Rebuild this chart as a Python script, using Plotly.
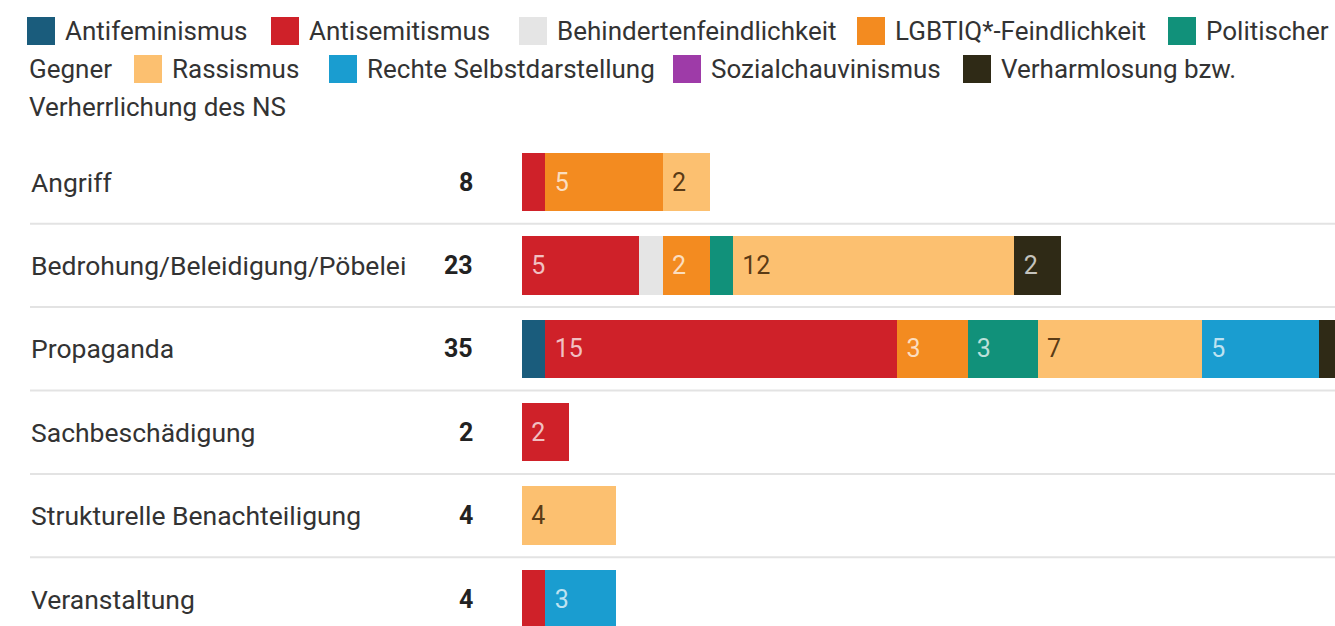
import plotly.graph_objects as go

# ---------------- data ----------------
categories = ["Angriff", "Bedrohung/Beleidigung/Pöbelei", "Propaganda",
              "Sachbeschädigung", "Strukturelle Benachteiligung", "Veranstaltung"]

series_names = ["Antifeminismus", "Antisemitismus", "Behindertenfeindlichkeit",
                "LGBTIQ*-Feindlichkeit", "Politischer Gegner", "Rassismus",
                "Rechte Selbstdarstellung", "Sozialchauvinismus",
                "Verharmlosung bzw. Verherrlichung des NS"]

antifeminismus = [0, 0, 1, 0, 0, 0]
antisemitismus = [1, 5, 15, 2, 0, 1]
behindertenfeindlichkeit = [0, 1, 0, 0, 0, 0]
lgbtiq_feindlichkeit = [5, 2, 3, 0, 0, 0]
politischer_gegner = [0, 1, 3, 0, 0, 0]
rassismus = [2, 12, 7, 0, 4, 0]
rechte_selbstdarstellung = [0, 0, 5, 0, 0, 3]
sozialchauvinismus = [0, 0, 0, 0, 0, 0]
verharmlosung = [0, 2, 1, 0, 0, 0]

series_values = [antifeminismus, antisemitismus, behindertenfeindlichkeit,
                 lgbtiq_feindlichkeit, politischer_gegner, rassismus,
                 rechte_selbstdarstellung, sozialchauvinismus, verharmlosung]

# ---------------- styles ----------------
colors = ["#1a5c7c", "#cf2129", "#e5e5e5", "#f38b20", "#11917a",
          "#fcc070", "#1a9dd0", "#9e3ba8", "#2f2a16"]
LIGHT = "rgba(255,255,255,0.72)"
DARK = "rgba(60,35,5,0.85)"
text_colors = [LIGHT, LIGHT, DARK, LIGHT, LIGHT, DARK, LIGHT, LIGHT, LIGHT]

W, H = 1335, 626
FONT = "Roboto"
PLOT_LEFT = 522    # px
UNIT = 23.45       # px per case
ROW = 83.4         # px per row
ROW0 = 182         # centre of first row (px)


def px(sx):
    return sx / W


def py(sy):
    return 1 - sy / H


fig = go.Figure()
for name, vals, col, tcol in zip(series_names, series_values, colors, text_colors):
    fig.add_trace(go.Bar(
        y=categories, x=vals, name=name, orientation="h",
        marker=dict(color=col, line=dict(width=0)),
        text=["\u00a0" + str(v) if v >= 2 else "" for v in vals],
        textposition="inside", insidetextanchor="start",
        textfont=dict(family=FONT, size=25, color=tcol),
        showlegend=False, width=0.7,
        hovertemplate="%{y}<br>" + name + ": %{x}<extra></extra>",
    ))

totals = [sum(s[i] for s in series_values) for i in range(len(categories))]

annotations = []
shapes = []
# category labels and totals
for cat, tot in zip(categories, totals):
    annotations.append(dict(x=px(29), xref="paper", y=cat, yref="y", text=cat,
                            showarrow=False, xanchor="left", yanchor="middle",
                            font=dict(family=FONT, size=26.5, color="#333333")))
    annotations.append(dict(x=px(475), xref="paper", y=cat, yref="y",
                            text="<b>" + str(tot) + "</b>",
                            showarrow=False, xanchor="right", yanchor="middle",
                            font=dict(family=FONT, size=25, color="#222222")))
# row separators
for i in range(len(categories) - 1):
    shapes.append(dict(type="line", xref="paper", yref="y",
                       x0=px(30), x1=1, y0=i + 0.5, y1=i + 0.5,
                       line=dict(color="#e3e3e3", width=2), layer="below"))

# custom wrapping legend (square x, line centre y, text) in px
legend_items = [
    (27, 31, series_names[0], colors[0]),
    (271, 31, series_names[1], colors[1]),
    (519, 31, series_names[2], colors[2]),
    (857, 31, series_names[3], colors[3]),
    (1168, 31, "Politischer", colors[4]),
    (134, 69, series_names[5], colors[5]),
    (329, 69, series_names[6], colors[6]),
    (673, 69, series_names[7], colors[7]),
    (963, 69, "Verharmlosung bzw.", colors[8]),
]
SQ = 28
for sx, cy, txt, col in legend_items:
    shapes.append(dict(type="rect", xref="paper", yref="paper",
                       x0=px(sx), x1=px(sx + SQ),
                       y0=py(cy + SQ / 2), y1=py(cy - SQ / 2),
                       fillcolor=col, line=dict(width=0)))
    annotations.append(dict(x=px(sx + SQ + 8), xref="paper", y=py(cy), yref="paper",
                            text=txt, showarrow=False, xanchor="left", yanchor="middle",
                            font=dict(family=FONT, size=26, color="#333333")))
# wrapped continuation lines of the legend
for tx, cy, txt in [(27, 69, "Gegner"), (27, 107, "Verherrlichung des NS")]:
    annotations.append(dict(x=px(tx), xref="paper", y=py(cy), yref="paper",
                            text=txt, showarrow=False, xanchor="left", yanchor="middle",
                            font=dict(family=FONT, size=26, color="#333333")))

n = len(categories)
fig.update_layout(
    width=W, height=H, autosize=False,
    margin=dict(l=0, r=0, t=0, b=0, pad=0),
    paper_bgcolor="white", plot_bgcolor="white",
    barmode="stack",
    font=dict(family=FONT, color="#333333"),
    xaxis=dict(domain=[px(PLOT_LEFT), 1], range=[0, (W - PLOT_LEFT) / UNIT],
               visible=False, fixedrange=True),
    yaxis=dict(domain=[0, 1],
               range=[n - 1 + (H - ROW0 - (n - 1) * ROW) / ROW, -ROW0 / ROW],
               visible=False, fixedrange=True, type="category"),
    uniformtext=dict(minsize=25, mode="show"),
    annotations=annotations, shapes=shapes,
)

fig.write_html(
    "out.html",
    config={"displayModeBar": False},
    post_script="document.body.style.margin='0';document.body.style.overflow='hidden';",
)
